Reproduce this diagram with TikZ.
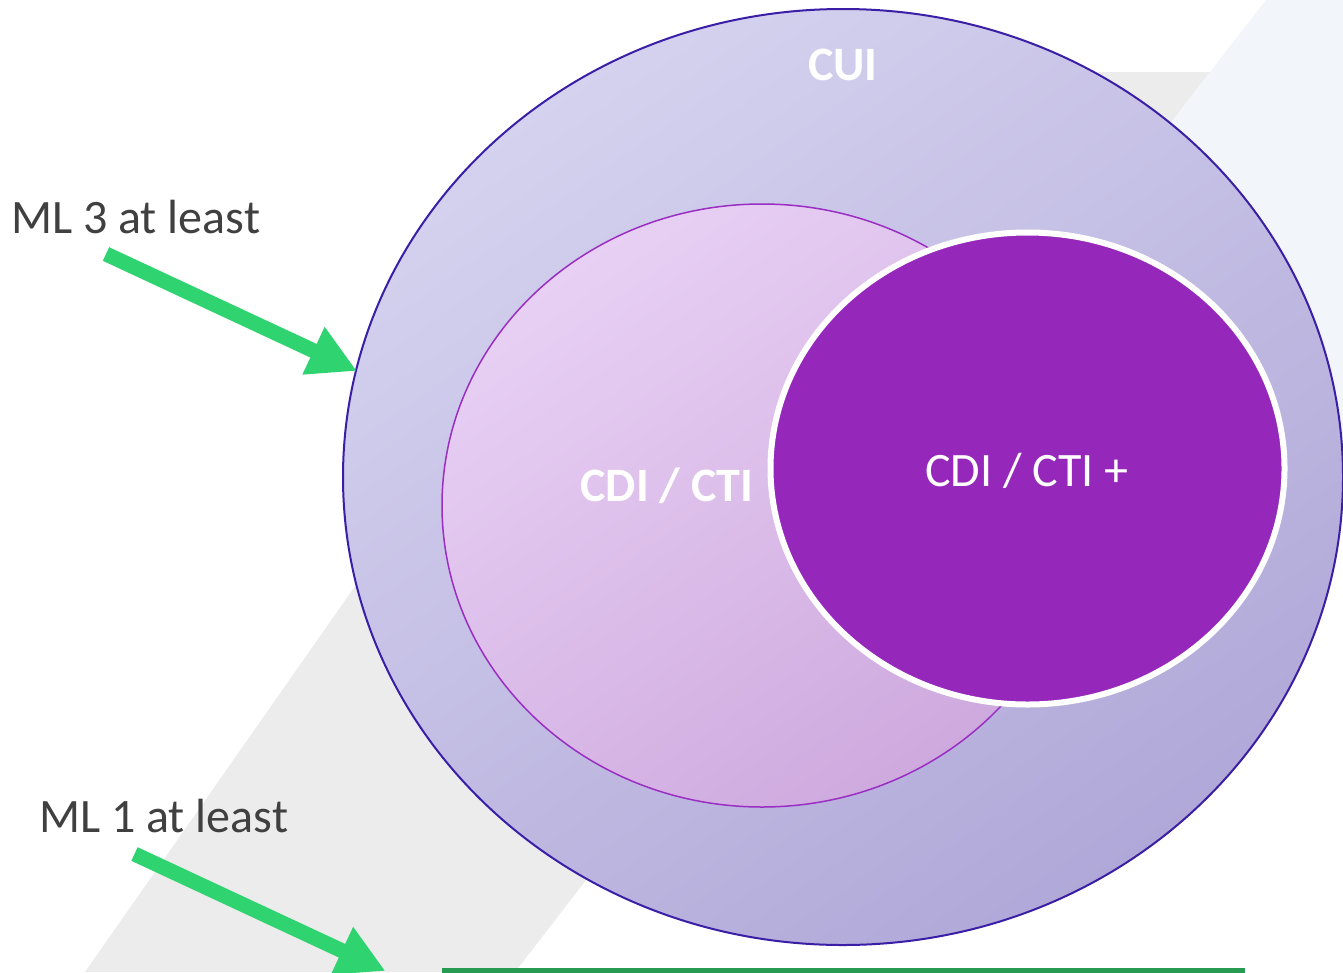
\documentclass[tikz,border=0pt]{standalone}
\usepackage{fontspec}
\setmainfont{Carlito}
\usetikzlibrary{shapes.geometric, arrows.meta}
\definecolor{bandgray}{HTML}{ECECEC}
\definecolor{bandblue}{HTML}{F2F6FB}
\definecolor{cuiline}{HTML}{3A1FA6}
\definecolor{cuitop}{HTML}{D5D2EF}
\definecolor{cuibot}{HTML}{B0A8D8}
\definecolor{cdiline}{HTML}{9A2EC2}
\definecolor{cditop}{HTML}{E8D0F4}
\definecolor{cdibot}{HTML}{CEA9DE}
\definecolor{cdiplus}{HTML}{9527BA}
\definecolor{arrowgreen}{HTML}{2FD36F}
\definecolor{bargreen}{HTML}{289B53}
\definecolor{labelgray}{HTML}{404040}
\tikzset{blob/.style={shape=ellipse, inner sep=0, line width=1.5pt}}
\tikzset{tag/.style={font=\fontsize{48}{58}\selectfont, text=white, inner sep=0},
  boldtag/.style={tag, font=\fontsize{48}{58}\selectfont\bfseries}}
\tikzset{pointer/.style={draw=arrowgreen, line width=15pt,
    -{Triangle[length=48pt, width=49pt]}}}

\begin{document}
\begin{tikzpicture}[x=1pt, y=-1pt]
  \useasboundingbox (0,0) rectangle (1343,972);
  \clip (0,0) rectangle (1343,972);
  \fill[white] (0,0) rectangle (1343,972);
  % background bands
  \fill[bandgray] (715,72) -- (1210,72) -- (515,972) -- (85,972) -- cycle;
  \fill[bandblue] (1266,0) -- (1343,0) -- (1343,500) -- (880,500) -- (1210,72) -- cycle;
  % sets
  \node[blob, draw=cuiline, line width=2pt, top color=cuitop, bottom color=cuibot,
    shading angle=35, minimum width=1000pt, minimum height=936pt] (cui) at (843,477) {};
  \node[blob, draw=cdiline, top color=cditop, bottom color=cdibot,
    shading angle=35, minimum width=640pt, minimum height=603pt] (cdi) at (762,505.5) {};
  \node[blob, draw=white, line width=6pt, fill=cdiplus,
    minimum width=514pt, minimum height=472pt] (plus) at (1027.5,468.5) {};
  \node[boldtag, anchor=base] (cuitext) at (843,80) {CUI};
  \node[boldtag, anchor=base] (cditext) at (667,501) {CDI / CTI};
  \node[tag, anchor=base] (plustext) at (1027,486) {CDI / CTI +};
  % levels
  \node[tag, text=labelgray, anchor=base west] (ml3) at (11,233) {ML 3 at least};
  \node[tag, text=labelgray, anchor=base west] (ml1) at (39,832) {ML 1 at least};
  \coordinate (ml3from) at (106,254);
  \coordinate (ml3to) at (357,371);
  \coordinate (ml1from) at (134.5,854);
  \coordinate (ml1to) at (385.5,971);
  \draw[pointer] (ml3from) -- (ml3to);
  \draw[pointer] (ml1from) -- (ml1to);
  \fill[bargreen] (442,968) rectangle (1245,990);
\end{tikzpicture}
\end{document}
